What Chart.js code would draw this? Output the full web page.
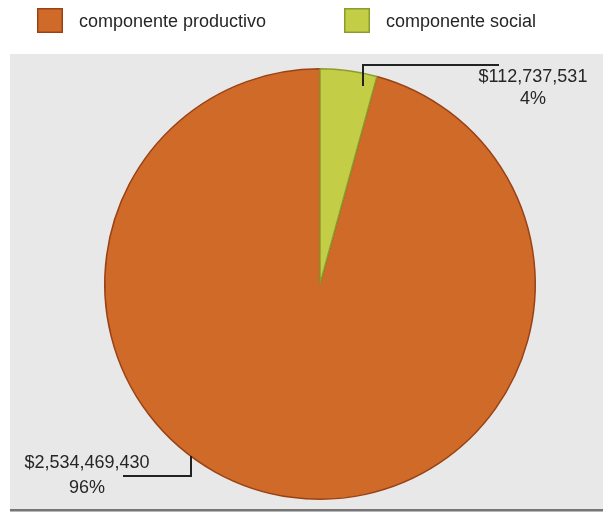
<!DOCTYPE html>
<html>
<head>
<meta charset="utf-8">
<script src="https://cdn.jsdelivr.net/npm/chart.js@4"></script>
<style>
  html, body { margin: 0; padding: 0; background: #fff; }
  #wrap { width: 605px; height: 512px; }
</style>
</head>
<body>
<div id="wrap"><canvas id="pieChart"></canvas></div>
<script>
const categories = ["componente productivo", "componente social"];
const amounts = [2534469430, 112737531];
const amountLabels = ["$2,534,469,430", "$112,737,531"];
const percentLabels = ["96%", "4%"];

const fills = ["#cf6a28", "#c3cd45"];
const borders = ["#9a4215", "#8c9c2c"];
const FONT = "'Liberation Sans', Arial, sans-serif";

const total = amounts.reduce((a, b) => a + b, 0);
// social slice sits just right of 12 o'clock
const startRotation = amounts[1] / total * 360;

// grey panel behind the pie
const backdrop = {
    id: "backdrop",
    beforeDraw(chart) {
        const ctx = chart.ctx;
        ctx.save();
        ctx.fillStyle = "#e8e8e8";
        ctx.fillRect(10, 54, 593, 455);
        ctx.fillStyle = "#757575";
        ctx.fillRect(10, 509, 593, 2);
        ctx.fillStyle = "#b8b8b8";
        ctx.fillRect(10, 511, 593, 1);
        ctx.restore();
    }
};

// legend row at the top
const topLegend = {
    id: "topLegend",
    afterDraw(chart) {
        const ctx = chart.ctx;
        const xs = [37, 344];
        ctx.save();
        ctx.font = "18px " + FONT;
        ctx.textBaseline = "middle";
        chart.data.labels.forEach((label, i) => {
            ctx.fillStyle = fills[i];
            ctx.fillRect(xs[i], 8, 26, 25);
            ctx.strokeStyle = borders[i];
            ctx.lineWidth = 1.5;
            ctx.strokeRect(xs[i] + 0.75, 8.75, 24.5, 23.5);
            ctx.fillStyle = "#262626";
            ctx.fillText(label, xs[i] + 42, 22);
        });
        ctx.restore();
    }
};

// value labels with elbow leader lines
const callouts = {
    id: "callouts",
    afterDatasetsDraw(chart) {
        const ctx = chart.ctx;
        const arcs = chart.getDatasetMeta(0).data;
        const spots = [
            { frac: 0.585, rad: 1.0, dy: 20, dx: -68, tx: -104, ty1: 7, ty2: 32 },
            { frac: 0.8, rad: 0.94, dy: -21, dx: 136, tx: 170, ty1: -9, ty2: 13 }
        ];
        ctx.save();
        ctx.strokeStyle = "#222";
        ctx.lineWidth = 2;
        ctx.font = "18px " + FONT;
        ctx.fillStyle = "#262626";
        ctx.textAlign = "center";
        ctx.textBaseline = "middle";
        arcs.forEach((arc, i) => {
            const s = spots[i];
            const a = arc.startAngle + s.frac * (arc.endAngle - arc.startAngle);
            const ax = Math.round(arc.x + Math.cos(a) * arc.outerRadius * s.rad);
            const ay = Math.round(arc.y + Math.sin(a) * arc.outerRadius * s.rad);
            ctx.beginPath();
            ctx.moveTo(ax, ay);
            ctx.lineTo(ax, ay + s.dy);
            ctx.lineTo(ax + s.dx, ay + s.dy);
            ctx.stroke();
            ctx.fillText(amountLabels[i], ax + s.tx, ay + s.ty1);
            ctx.fillText(percentLabels[i], ax + s.tx, ay + s.ty2);
        });
        ctx.restore();
    }
};

new Chart(document.getElementById("pieChart"), {
    type: "pie",
    data: {
        labels: categories,
        datasets: [{
            data: amounts,
            backgroundColor: fills,
            borderColor: borders,
            borderWidth: 1.5
        }]
    },
    options: {
        responsive: true,
        maintainAspectRatio: false,
        animation: false,
        rotation: startRotation,
        layout: { padding: { top: 68, bottom: 12, left: 104, right: 69 } },
        plugins: {
            legend: { display: false },
            tooltip: { enabled: false }
        }
    },
    plugins: [backdrop, topLegend, callouts]
});
</script>
</body>
</html>
